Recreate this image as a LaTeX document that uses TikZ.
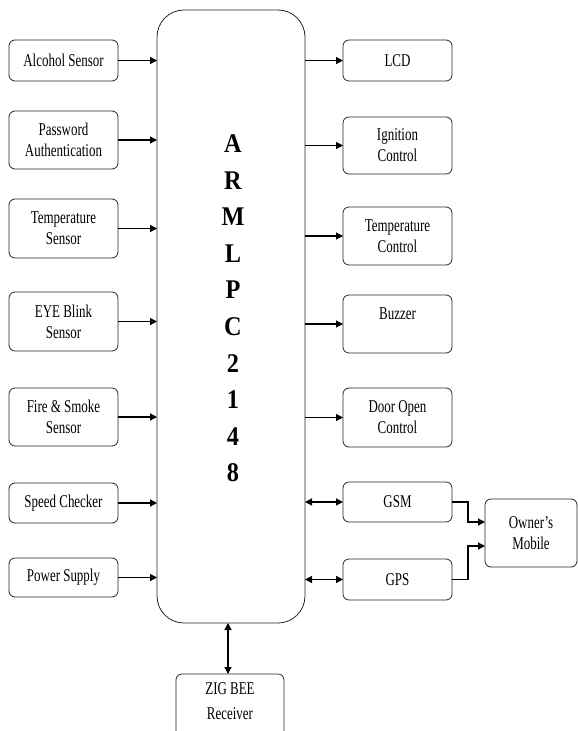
\documentclass[tikz,border=0pt]{standalone}
\usepackage{fontspec}
\setmainfont[FakeStretch=0.72]{Liberation Serif}
\newfontfamily\armfont[FakeStretch=0.9]{Liberation Serif}
\usetikzlibrary{arrows.meta}
\begin{document}
\begin{tikzpicture}[x=1pt,y=-1pt,
  box/.style={draw=black!85, line width=0.8pt, rounded corners=6pt, minimum width=109pt,
    inner sep=0pt, outer sep=0pt, align=center, font=\fontsize{18}{21}\selectfont},
  arr/.style={line width=1.2pt, -{Triangle[length=7pt,width=7pt]}},
  biarr/.style={line width=1.2pt, {Triangle[length=7pt,width=7pt]}-{Triangle[length=7pt,width=7pt]}},
  armletter/.style={font=\armfont\bfseries\fontsize{27}{30}\selectfont, inner sep=0pt, anchor=base}]
\useasboundingbox (0,0) rectangle (578,731);
\clip (0,0) rectangle (578,731);
% main controller
\node[draw=black!85, line width=0.8pt, rounded corners=27pt, minimum width=148pt, minimum height=613pt, inner sep=0pt, outer sep=0pt] (mcu) at (231,316.5) {};
\foreach \c [count=\i] in {A,R,M,L,P,C,2,1,4,8}
  \node[armletter] (arm\i) at (233,{152.5+36.6*(\i-1)}) {\c};
% left blocks
\node[box, minimum height=41pt] (alc) at (63.5,60.5) {Alcohol Sensor};
\node[box, minimum height=58pt] (pwd) at (63.5,140) {Password\\Authentication};
\node[box, minimum height=59pt] (tsen) at (63.5,228.5) {Temperature\\Sensor};
\node[box, minimum height=59pt] (eye) at (63.5,321.5) {EYE Blink\\Sensor};
\node[box, minimum height=58pt] (fire) at (63.5,417) {Fire \& Smoke\\Sensor};
\node[box, minimum height=40pt] (spd) at (63.5,503) {Speed Checker};
\node[box, minimum height=39pt] (pwr) at (63.5,577.5) {Power Supply};
% right blocks
\node[box, minimum height=41pt] (lcd) at (397.5,60.5) {LCD};
\node[box, minimum height=57pt] (ign) at (397.5,145.5) {Ignition\\Control};
\node[box, minimum height=58pt] (tctl) at (397.5,236) {Temperature\\Control};
\node[box, minimum height=58pt] (buz) at (397.5,324) {Buzzer\\\phantom{B}};
\node[box, minimum height=59pt] (door) at (397.5,417.5) {Door Open\\Control};
\node[box, minimum height=40pt] (gsm) at (397.5,502) {GSM};
\node[box, minimum height=41pt] (gps) at (397.5,579.5) {GPS};
\node[box, minimum width=92pt, minimum height=68pt] (owner) at (531,533) {Owner’s\\Mobile};
% zigbee (bottom edge runs off the picture)
\node[align=center, inner sep=0pt, outer sep=0pt, minimum width=108pt, minimum height=55pt, font=\fontsize{18}{21}\selectfont] (zig) at (230,701.5) {ZIG BEE\\[4pt]Receiver};
\draw[draw=black!85, line width=0.8pt, rounded corners=6pt] ([yshift=-25pt]zig.south west) |- (zig.north east) -- ([yshift=-25pt]zig.south east);
% inputs
\foreach \n in {alc,pwd,tsen,eye,fire,spd,pwr}
  \draw[arr] (\n.east) -- (\n.east -| mcu.west);
% outputs
\foreach \n in {lcd,ign,tctl,buz,door}
  \draw[arr] (\n.west -| mcu.east) -- (\n.west);
\draw[biarr] (gsm.west -| mcu.east) -- (gsm.west);
\draw[biarr] (gps.west -| mcu.east) -- (gps.west);
\draw[arr] (gsm.east) -- ++(16,0) |- ([yshift=11pt]owner.west);
\draw[arr] (gps.east) -- ++(16,0) |- ([yshift=-13pt]owner.west);
\draw[biarr] (mcu.south -| 228,0) -- (zig.north -| 228,0);
\end{tikzpicture}
\end{document}
